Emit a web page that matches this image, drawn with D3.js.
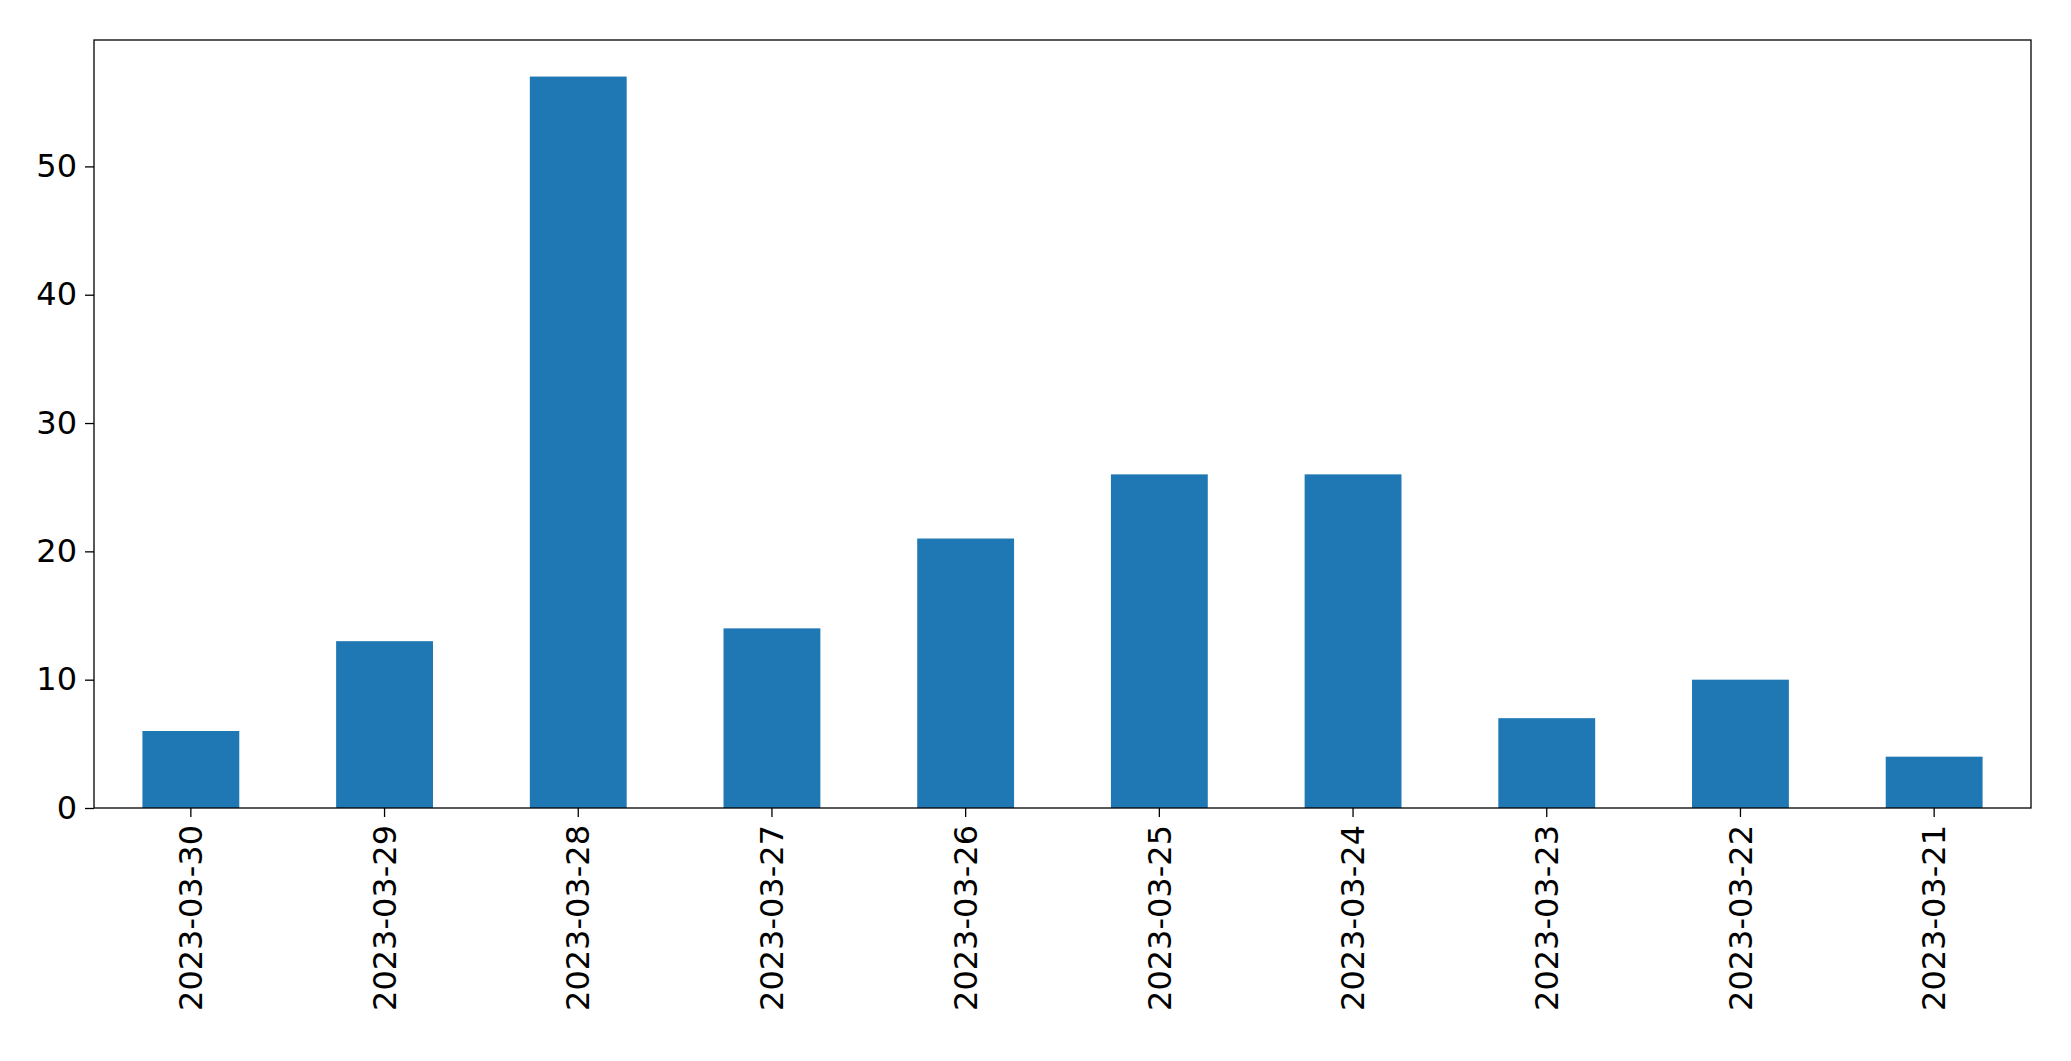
<!DOCTYPE html>
<html><head><meta charset="utf-8">
<script src="https://cdn.jsdelivr.net/npm/d3@7"></script>
<style>body{margin:0;background:#fff}svg{display:block}text{font-family:"DejaVu Sans",sans-serif}</style>
</head><body>
<svg id="c" width="2071" height="1061"></svg>
<script>
const categories = ["2023-03-30","2023-03-29","2023-03-28","2023-03-27","2023-03-26","2023-03-25","2023-03-24","2023-03-23","2023-03-22","2023-03-21"];
const values = [6,13,57,14,21,26,26,7,10,4];
const yTicks = [0,10,20,30,40,50];

const svg = d3.select("#c");
const m = {l:94, r:2031, t:40, b:808};
const x = d3.scaleBand().domain(categories).range([m.l, m.r]).paddingInner(0.5).paddingOuter(0.25);
const y = d3.scaleLinear().domain([0, 57*1.05]).range([m.b, m.t]);

svg.selectAll("rect.bar").data(values).join("rect").attr("class","bar")
  .attr("x",(d,i)=>x(categories[i])).attr("width",x.bandwidth())
  .attr("y",d=>y(d)).attr("height",d=>y(0)-y(d)).attr("fill","#1f77b4");

svg.append("rect").attr("x",m.l).attr("y",m.t).attr("width",m.r-m.l).attr("height",m.b-m.t)
  .attr("fill","none").attr("stroke","#000").attr("stroke-width",1.3);

const ya = svg.append("g").attr("transform",`translate(${m.l},0)`)
  .call(d3.axisLeft(y).tickValues(yTicks).tickSize(9).tickPadding(8));
ya.select(".domain").remove();
ya.selectAll("text").attr("font-size",32).attr("fill","#000").attr("font-family","DejaVu Sans");
ya.selectAll("line").attr("stroke","#000").attr("stroke-width",1.3);

const xa = svg.append("g").attr("transform",`translate(0,${m.b})`)
  .call(d3.axisBottom(x).tickSize(9).tickPadding(8));
xa.select(".domain").remove();
xa.selectAll("line").attr("stroke","#000").attr("stroke-width",1.3);
xa.selectAll("text").attr("font-size",32).attr("fill","#000").attr("font-family","DejaVu Sans")
  .attr("transform","rotate(-90)").attr("text-anchor","end").attr("dy","0.35em")
  .attr("x",-17).attr("y",0);
</script>
</body></html>
